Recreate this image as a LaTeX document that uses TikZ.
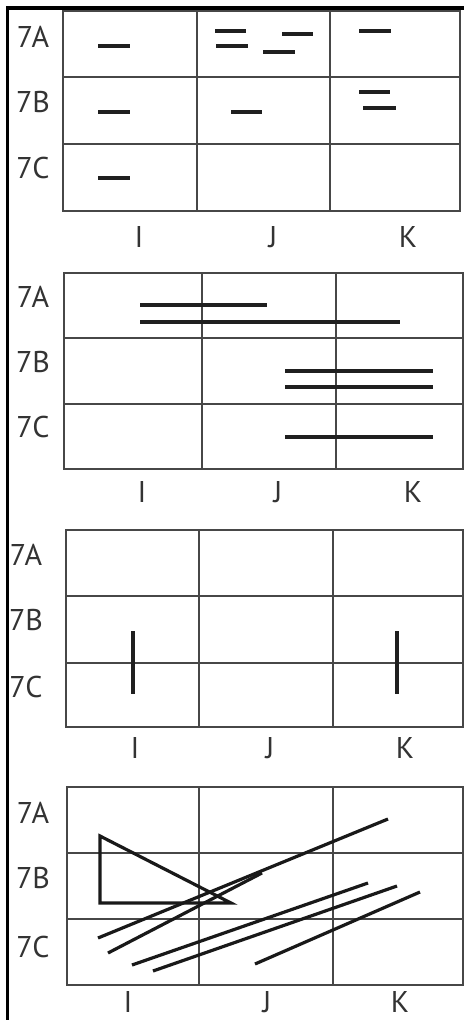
\documentclass[tikz,border=0pt]{standalone}
\usepackage{fontspec}
\setmainfont{PT Sans}
\begin{document}
\begin{tikzpicture}[x=1pt,y=-1pt,
  gridline/.style={draw=black!72, line width=1.7pt},
  seg/.style={draw=black!88, line width=3.6pt},
  thinseg/.style={draw=black!90, line width=3.2pt},
  frameline/.style={draw=black, line width=3.5pt},
  lbl/.style={font=\fontsize{30}{30}\selectfont, text=black!80, inner sep=0pt, anchor=center}]
\useasboundingbox (0,0) rectangle (464,1020);
\fill[white] (0,0) rectangle (464,1020);
% outer frame (top and left only)
\draw[frameline, line width=4pt] (6,8) -- (464,8);
\draw[frameline] (7.5,6) -- (7.5,1020);

% ---------- Panel 1 ----------
\draw[gridline] (63,11) rectangle (460,211);
\draw[gridline] (197,11) -- (197,211) (330,11) -- (330,211)
                (63,77) -- (460,77) (63,144) -- (460,144);
\node[lbl] (p1a) at (33,37) {7A};
\node[lbl] (p1b) at (33,102) {7B};
\node[lbl] (p1c) at (33,168) {7C};
\node[lbl] (p1i) at (139,237) {I};
\node[lbl] (p1j) at (273,237) {J};
\node[lbl] (p1k) at (408,237) {K};
\draw[seg] (98,46) -- (130,46);
\draw[seg] (215,31) -- (246,31) (216,46) -- (248,46)
           (282,34) -- (313,34) (263,52) -- (295,52);
\draw[seg] (359,31) -- (391,31);
\draw[seg] (98,112) -- (130,112);
\draw[seg] (231,112) -- (262,112);
\draw[seg] (359,92) -- (390,92) (363,108) -- (396,108);
\draw[seg] (98,178) -- (130,178);

% ---------- Panel 2 ----------
\draw[gridline] (64,273) rectangle (463,469);
\draw[gridline] (202,273) -- (202,469) (336,273) -- (336,469)
                (64,338) -- (463,338) (64,404) -- (463,404);
\node[lbl] (p2a) at (33,297) {7A};
\node[lbl] (p2b) at (33,362) {7B};
\node[lbl] (p2c) at (33,427) {7C};
\node[lbl] (p2i) at (142,492) {I};
\node[lbl] (p2j) at (278,492) {J};
\node[lbl] (p2k) at (413,492) {K};
\draw[seg] (140,305) -- (267,305);
\draw[seg] (140,322) -- (400,322);
\draw[seg] (285,371) -- (433,371);
\draw[seg] (285,387) -- (433,387);
\draw[seg] (285,437) -- (433,437);

% ---------- Panel 3 ----------
\draw[gridline] (66,530) rectangle (463,727);
\draw[gridline] (199,530) -- (199,727) (333,530) -- (333,727)
                (66,596) -- (463,596) (66,663) -- (463,663);
\node[lbl] (p3a) at (26,555) {7A};
\node[lbl] (p3b) at (26,620) {7B};
\node[lbl] (p3c) at (26,687) {7C};
\node[lbl] (p3i) at (135,748) {I};
\node[lbl] (p3j) at (270,748) {J};
\node[lbl] (p3k) at (405,748) {K};
\draw[seg] (133,631) -- (133,694);
\draw[seg] (397,631) -- (397,694);

% ---------- Panel 4 ----------
\draw[gridline] (67,787) rectangle (463,985);
\draw[gridline] (199,787) -- (199,985) (333,787) -- (333,985)
                (67,853) -- (463,853) (67,919) -- (463,919);
\node[lbl] (p4a) at (33,813) {7A};
\node[lbl] (p4b) at (33,878) {7B};
\node[lbl] (p4c) at (33,947) {7C};
\node[lbl] (p4i) at (128,1002) {I};
\node[lbl] (p4j) at (267,1002) {J};
\node[lbl] (p4k) at (400,1002) {K};
\draw[thinseg, line join=miter] (100,836) -- (100,903) -- (231,903) -- cycle;
\draw[thinseg] (98,938) -- (388,819);
\draw[thinseg] (108,953) -- (262,873);
\draw[thinseg] (132,965) -- (368,883);
\draw[thinseg] (153,971) -- (397,886);
\draw[thinseg] (255,964) -- (420,892);
\end{tikzpicture}
\end{document}
